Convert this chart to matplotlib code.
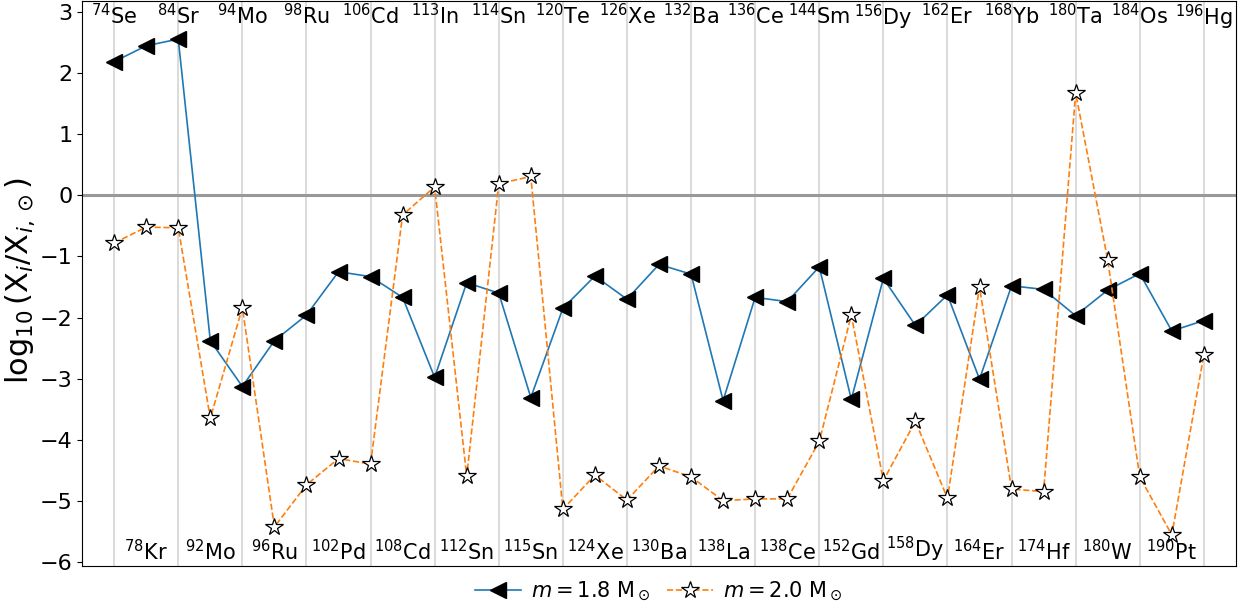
import numpy as np
import matplotlib
matplotlib.use("Agg")
import matplotlib.pyplot as plt

# p-nuclei, in mass order; even index -> label on top, odd -> bottom
masses = [74, 78, 84, 92, 94, 96, 98, 102, 106, 108, 113, 112, 114, 115, 120,
          124, 126, 130, 132, 138, 136, 138, 144, 152, 156, 158, 162, 164, 168,
          174, 180, 180, 184, 190, 196]
elements = ["Se", "Kr", "Sr", "Mo", "Mo", "Ru", "Ru", "Pd", "Cd", "Cd", "In",
            "Sn", "Sn", "Sn", "Te", "Xe", "Xe", "Ba", "Ba", "La", "Ce", "Ce",
            "Sm", "Gd", "Dy", "Dy", "Er", "Er", "Yb", "Hf", "Ta", "W", "Os",
            "Pt", "Hg"]

# log10(X_i / X_i,sun)
m18 = [2.19, 2.45, 2.56, -2.38, -3.13, -2.38, -1.96, -1.25, -1.33, -1.67,
       -2.98, -1.43, -1.60, -3.31, -1.85, -1.32, -1.70, -1.13, -1.29, -3.36,
       -1.67, -1.74, -1.17, -3.34, -1.36, -2.13, -1.63, -3.01, -1.48, -1.54,
       -1.97, -1.55, -1.28, -2.22, -2.05]
m20 = [-0.78, -0.52, -0.53, -3.65, -1.84, -5.43, -4.74, -4.31, -4.40, -0.32,
       0.14, -4.60, 0.19, 0.31, -5.14, -4.58, -4.99, -4.43, -4.61, -5.00,
       -4.97, -4.97, -4.03, -1.96, -4.67, -3.70, -4.96, -1.50, -4.81, -4.85,
       1.68, -1.06, -4.61, -5.56, -2.61]

x = np.arange(len(masses))

fig = plt.figure(figsize=(12.44, 6.08), dpi=100)
ax = fig.add_axes([0.066, 0.069, 0.9275, 0.929])

# vertical guides at the top-labelled isotopes
for xi in x[::2]:
    ax.axvline(xi, color="#d8d8d8", lw=1.3, zorder=0)
ax.axhline(0, color="#999999", lw=2.2, zorder=1)

ax.plot(x, m18, "-", color="C0", lw=1.2, marker="<", ms=11,
        mfc="black", mec="black", label=r"$m = 1.8$ M$_\odot$", zorder=3)
ax.plot(x, m20, "--", color="C1", lw=1.2, marker="*", ms=13,
        mfc="white", mec="black", mew=0.9, label=r"$m = 2.0$ M$_\odot$", zorder=3)

trans = ax.get_xaxis_transform()
for i in x:
    lab = r"$^{%d}$%s" % (masses[i], elements[i])
    if i % 2 == 0:
        ax.text(i, 0.997, lab, transform=trans, ha="center", va="top", fontsize=15)
    else:
        ax.text(i, 0.003, lab, transform=trans, ha="center", va="bottom", fontsize=15)

ax.set_xlim(-1, 35)
ax.set_ylim(-6.07, 3.18)
ax.set_xticks([])
ax.set_yticks(range(-6, 4))
ax.tick_params(axis="y", labelsize=16, length=3.5)
ax.set_ylabel(r"$\log_{10}(\mathrm{X}_i/\mathrm{X}_{i,\odot})$", fontsize=22)
ax.yaxis.set_label_coords(-0.039, 0.505)

fig.legend(loc="center", bbox_to_anchor=(0.5298, 0.027), ncol=2,
           frameon=False, fontsize=15, handlelength=2.2, handletextpad=0.5,
           columnspacing=0.8)

fig.savefig("out.png", dpi=100)
